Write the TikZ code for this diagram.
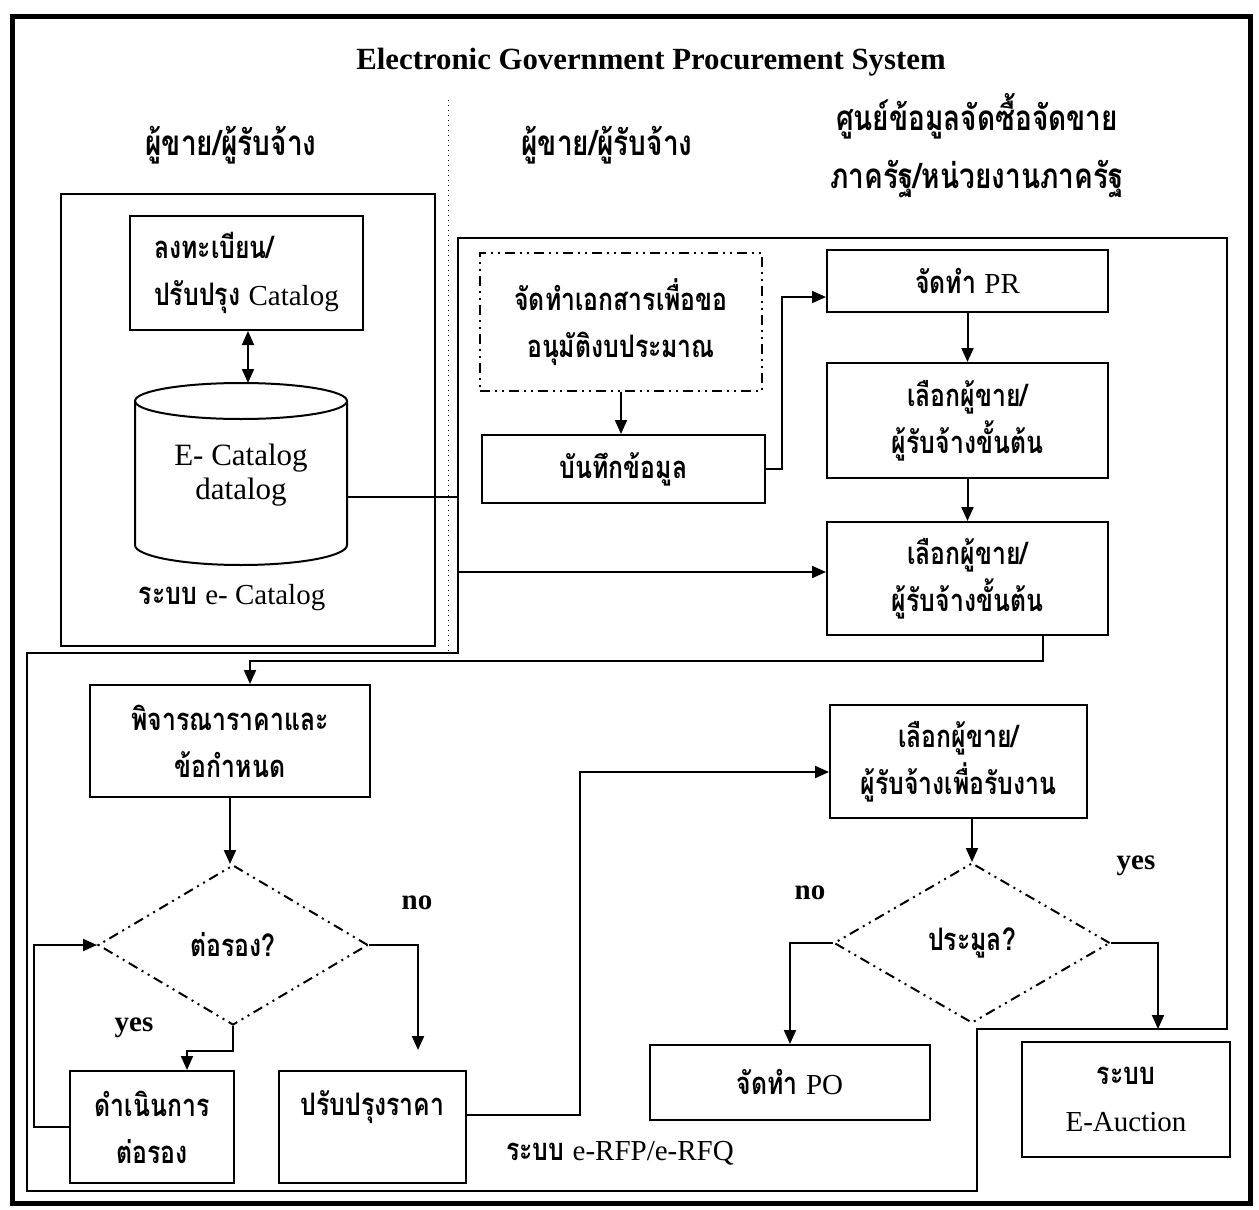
\documentclass[tikz,border=0pt]{standalone}
\usepackage{fontspec}
\setmainfont{Liberation Serif}
\newfontfamily\thai[Script=Thai, FakeStretch=0.8]{Loma}
\usetikzlibrary{arrows.meta,shapes.geometric}

% Thai text in boxes, Thai headings, Latin text
\newcommand\tf{\thai\bfseries\fontsize{15.5}{23.5}\selectfont}
\newcommand\hf{\thai\bfseries\fontsize{17.5}{29}\selectfont}
\newcommand\lat[1]{{\normalfont\fontsize{14.5}{23.5}\selectfont #1}}

\begin{document}
\begin{tikzpicture}[x=0.5pt,y=-0.5pt,
  frame/.style={line width=1pt},
  box/.style={draw, line width=1pt, inner sep=0pt, align=center, font=\tf},
  txt/.style={inner sep=0pt, font=\tf},
  ddash/.style={dash pattern=on 5pt off 2.5pt on 1pt off 2.5pt on 1pt off 2.5pt},
  dec/.style={diamond, draw, line width=1pt, ddash, inner sep=0pt, font=\tf},
  arr/.style={line width=1pt, -{Triangle[length=7pt,width=6pt]}},
  yn/.style={font=\bfseries\fontsize{14.5}{17}\selectfont},
  ]
\useasboundingbox (0,0) rectangle (1259,1210);

% outer border
\draw[line width=2.5pt] (12,16) rectangle (1250,1203);

% title and column headings
\node[font=\bfseries\fontsize{15.4}{18}\selectfont] (title) at (651,62) {Electronic Government Procurement System};
\node[font=\hf] (h1) at (231,145) {ผู้ขาย/ผู้รับจ้าง};
\node[font=\hf] (h2) at (607,145) {ผู้ขาย/ผู้รับจ้าง};
\node[font=\hf, align=center] (h3) at (977,146) {ศูนย์ข้อมูลจัดซื้อจัดขาย\\ภาครัฐ/หน่วยงานภาครัฐ};

% column separator
\draw[dotted, line width=0.5pt] (448,100) -- (448,655);

% e-Catalog system frame
\draw[frame] (61,194) rectangle (435,646);
% e-RFP / e-RFQ system frame
\draw[frame] (27,653) -- (458,653) -- (458,238) -- (1227,238) -- (1227,1029)
  -- (977,1029) -- (977,1191) -- (27,1191) -- cycle;

% e-Catalog part
\node[box, minimum width=116.5pt, minimum height=57pt] (reg) at (246.5,273) {};
\node[txt, align=left] (regt) at (reg.center) {ลงทะเบียน/\\ปรับปรุง \lat{Catalog}};

\draw[frame] (135,401) -- (135,545) arc[start angle=180,end angle=0,x radius=106,y radius=20] -- (347,401);
\draw[frame] (241,401) ellipse [x radius=106, y radius=18];
\node[align=center, font=\fontsize{15.5}{17}\selectfont] (cyl) at (241,475) {E- Catalog\\datalog};
\coordinate (cylT) at (248,383);
\coordinate (cylE) at (347,497);
\draw[line width=1pt, {Triangle[length=7pt,width=6pt]}-{Triangle[length=7pt,width=6pt]}]
  (reg.south -| cylT) -- (cylT);
\node[txt] (ecl) at (232,598) {ระบบ \lat{e- Catalog}};

% purchasing steps
\node[box, ddash, minimum width=141pt, minimum height=69pt] (doc) at (621,322) {จัดทำเอกสารเพื่อขอ\\อนุมัติงบประมาณ};
\node[box, minimum width=141.5pt, minimum height=34pt] (sav) at (623.5,469) {บันทึกข้อมูล};
\node[box, minimum width=140.5pt, minimum height=31pt] (pr) at (967.5,281) {จัดทำ \lat{PR}};
\node[box, minimum width=140.5pt, minimum height=57.5pt] (sel1) at (967.5,420.5) {เลือกผู้ขาย/\\ผู้รับจ้างขั้นต้น};
\node[box, minimum width=140.5pt, minimum height=56.5pt] (sel2) at (967.5,578.5) {เลือกผู้ขาย/\\ผู้รับจ้างขั้นต้น};
\node[box, minimum width=140pt, minimum height=56pt] (cons) at (230,741) {พิจารณาราคาและ\\ข้อกำหนด};
\node[dec, minimum width=135pt, minimum height=80pt] (neg) at (233,945) {ต่อรอง?};
\node[box, minimum width=82pt, minimum height=56pt] (dono) at (152,1127) {ดำเนินการ\\ต่อรอง};
\node[box, minimum width=93.5pt, minimum height=56pt] (imp) at (372.5,1127) {};
\node[txt] (impt) at (372.5,1107) {ปรับปรุงราคา};
\node[box, minimum width=128.5pt, minimum height=56.5pt] (win) at (958.5,761.5) {เลือกผู้ขาย/\\ผู้รับจ้างเพื่อรับงาน};
\node[dec, minimum width=138pt, minimum height=80pt] (auc) at (972,943) {ประมูล?};
\node[box, minimum width=140pt, minimum height=37.5pt] (po) at (790,1082.5) {จัดทำ \lat{PO}};
\node[box, minimum width=104pt, minimum height=57.5pt] (eauc) at (1126,1099.5) {ระบบ\\\lat{E-Auction}};

\node[txt] (rfp) at (620,1153) {ระบบ \lat{e-RFP/e-RFQ}};
\node[yn] (no1) at (417,903) {no};
\node[yn] (yes1) at (134,1028) {yes};
\node[yn] (no2) at (810,893) {no};
\node[yn] (yes2) at (1136,866) {yes};

% connectors
\draw[arr] (doc.south) -- (doc.south |- sav.north);
\draw[arr] (sav.east) -- (782,469) -- (782,297) -- ([yshift=-8pt]pr.west);
\draw[arr] (pr.south) -- (sel1.north);
\draw[arr] (sel1.south) -- (sel2.north);
\draw[arr] (cylE) -- (458,497) -- (458,572) -- ([yshift=3.25pt]sel2.west);
\draw[arr] ([xshift=37.75pt]sel2.south) -- ++(0,25) -| ([xshift=10pt]cons.north);
\draw[arr] (cons.south) -- (cons.south |- neg.north);
\draw[arr, shorten >=10pt] (neg.east) -| ([xshift=22.75pt]imp.north);
\draw[arr] (neg.south) -- ++(0,25) -| ([xshift=17.5pt]dono.north);
\draw[arr] (dono.west) -- ++(-35,0) |- (neg.west);
\draw[arr] ([yshift=6pt]imp.east) -- (580,1115) |- ([yshift=-5.25pt]win.west);
\draw[arr] (win.south -| auc.north) -- (auc.north);
\draw[arr] (auc.west) -| (po.north);
\draw[arr, shorten >=6pt] (auc.east) -| ([xshift=16pt]eauc.north);
\end{tikzpicture}
\end{document}
